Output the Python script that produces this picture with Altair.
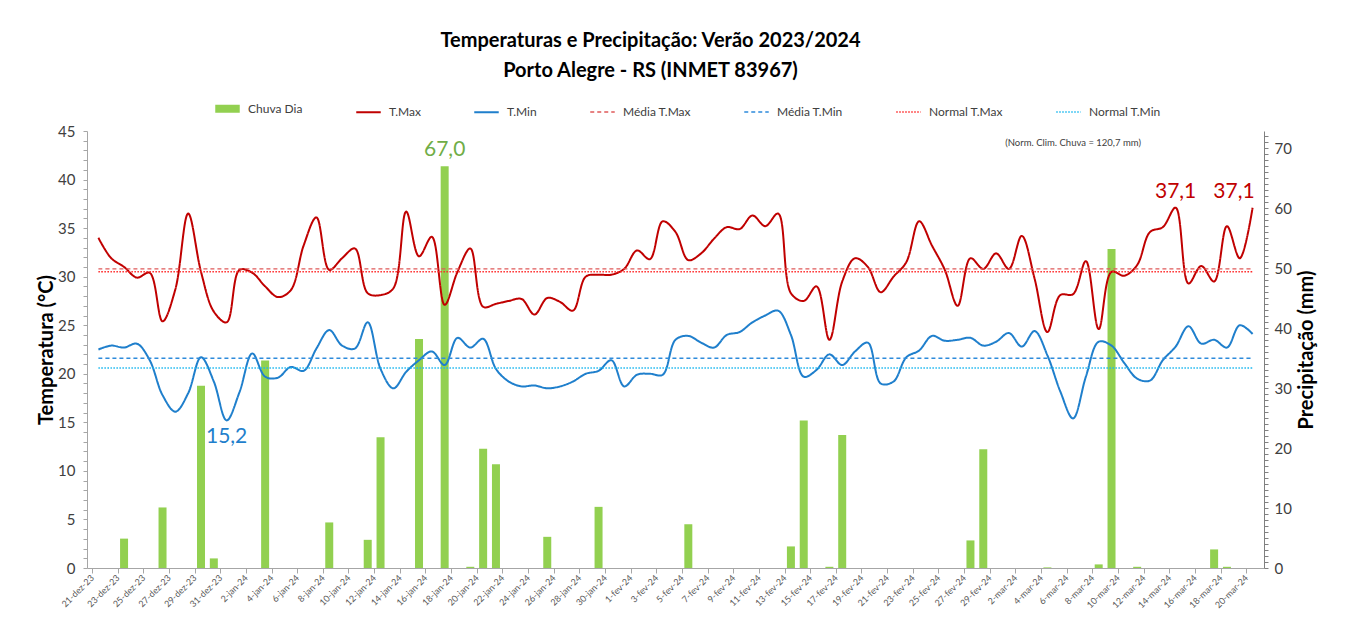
import altair as alt
import pandas as pd

# ---------------- data ----------------
tick_labels = [
    "21-dez-23", "23-dez-23", "25-dez-23", "27-dez-23", "29-dez-23", "31-dez-23",
    "2-jan-24", "4-jan-24", "6-jan-24", "8-jan-24", "10-jan-24", "12-jan-24", "14-jan-24",
    "16-jan-24", "18-jan-24", "20-jan-24", "22-jan-24", "24-jan-24", "26-jan-24", "28-jan-24",
    "30-jan-24", "1-fev-24", "3-fev-24", "5-fev-24", "7-fev-24", "9-fev-24", "11-fev-24",
    "13-fev-24", "15-fev-24", "17-fev-24", "19-fev-24", "21-fev-24", "23-fev-24", "25-fev-24",
    "27-fev-24", "29-fev-24", "2-mar-24", "4-mar-24", "6-mar-24", "8-mar-24", "10-mar-24",
    "12-mar-24", "14-mar-24", "16-mar-24", "18-mar-24", "20-mar-24",
]

t_max = [
    34.0, 31.9, 31.0, 29.9, 30.4, 25.4, 28.7, 36.5, 30.5, 26.4,
    25.3, 30.7, 30.4, 29.0, 27.9, 28.6, 33.2, 36.1, 30.7, 31.9,
    32.9, 28.3, 28.1, 28.8, 36.7, 32.1, 34.1, 27.1, 30.5, 32.9,
    26.9, 27.2, 27.5, 27.7, 26.1, 27.8, 27.4, 26.5, 30.0, 30.2,
    30.2, 30.8, 32.7, 31.8, 35.7, 34.6, 31.7, 32.4, 33.9, 35.1,
    34.9, 36.3, 35.2, 36.5, 28.3, 27.5, 29.0, 23.5, 29.5, 31.9,
    31.0, 28.4, 30.0, 31.5, 35.7, 33.2, 30.7, 27.0, 31.9, 30.8,
    32.4, 30.8, 34.2, 29.8, 24.3, 28.1, 28.2, 31.6, 24.6, 30.5,
    30.1, 31.2, 34.6, 35.1, 37.1, 29.3, 31.1, 29.5, 35.2, 31.9,
    37.1,
]

t_min = [
    22.5, 22.9, 22.7, 23.1, 21.4, 17.8, 16.1, 18.0, 21.7, 19.2,
    15.2, 18.1, 22.1, 19.7, 19.6, 20.7, 20.3, 22.6, 24.5, 22.9,
    22.6, 25.3, 20.5, 18.5, 20.2, 21.4, 22.3, 20.9, 23.7, 22.7,
    23.6, 20.5, 19.2, 18.7, 18.8, 18.5, 18.7, 19.2, 20.0, 20.3,
    21.4, 18.7, 19.9, 20.0, 19.9, 23.5, 23.9, 23.2, 22.7, 24.0,
    24.3, 25.3, 26.0, 26.5, 24.0, 19.7, 20.4, 22.0, 20.9, 22.3,
    23.2, 19.0, 19.2, 21.7, 22.4, 23.9, 23.4, 23.5, 23.7, 22.9,
    23.3, 24.2, 22.8, 24.4, 21.9, 18.2, 15.4, 19.7, 23.3, 22.9,
    21.1, 19.5, 19.3, 21.4, 22.8, 24.9, 23.1, 23.5, 22.7, 25.0,
    24.1,
]

chuva = [
    0, 0, 4.9, 0, 0, 10.1, 0, 0, 30.4, 1.6,
    0, 0, 0, 34.6, 0, 0, 0, 0, 7.6, 0,
    0, 4.7, 21.8, 0, 0, 38.2, 0, 67.0, 0, 0.2,
    19.9, 17.3, 0, 0, 0, 5.2, 0, 0, 0, 10.2,
    0, 0, 0, 0, 0, 0, 7.3, 0, 0, 0,
    0, 0, 0, 0, 3.6, 24.6, 0, 0.2, 22.2, 0,
    0, 0, 0, 0, 0, 0, 0, 0, 4.6, 19.8,
    0, 0, 0, 0, 0.1, 0, 0, 0, 0.6, 53.2,
    0, 0.2, 0, 0, 0, 0, 0, 3.1, 0.2, 0,
    0,
]

media_tmax = 30.8
media_tmin = 21.6
normal_tmax = 30.5
normal_tmin = 20.6
norm_chuva_txt = "(Norm. Clim. Chuva = 120,7 mm)"

series_names = ["Chuva Dia", "T.Max", "T.Min", "Média T.Max", "Média T.Min",
                "Normal T.Max", "Normal T.Min"]
series_colors = ["#92D050", "#C00000", "#1F7FCC", "#E05A5A", "#2E8BDB",
                 "#FF2A2A", "#1CB8F0"]
series_dash = [[1, 0], [1, 0], [1, 0], [4, 3], [4, 3], [1.5, 1.5], [1.5, 1.5]]
series_width = [8, 2, 2, 1.4, 1.4, 1.4, 1.4]

FONT = "Lato"
n = len(t_max)
idx = list(range(n))

# ---------------- frames ----------------
rain_df = pd.DataFrame({"xc": [i + 0.5 for i in idx], "chuva": chuva})
rain_df = rain_df[rain_df["chuva"] > 0]

rows = []
for i in idx:
    xc = i + 0.5
    rows += [
        {"xc": xc, "serie": "T.Max", "valor": t_max[i]},
        {"xc": xc, "serie": "T.Min", "valor": t_min[i]},
        {"xc": xc, "serie": "Média T.Max", "valor": media_tmax},
        {"xc": xc, "serie": "Média T.Min", "valor": media_tmin},
        {"xc": xc, "serie": "Normal T.Max", "valor": normal_tmax},
        {"xc": xc, "serie": "Normal T.Min", "valor": normal_tmin},
    ]
line_df = pd.DataFrame(rows)

def fmt(v):
    return f"{v:.1f}".replace(".", ",")

i_rmax = max(idx, key=lambda i: chuva[i])
i_tmin = min(idx, key=lambda i: t_min[i])
i_tmax = [i for i in idx if t_max[i] == max(t_max)]

rmax_df = pd.DataFrame({"xc": [i_rmax + 0.5], "v": [chuva[i_rmax]], "txt": [fmt(chuva[i_rmax])]})
tmin_df = pd.DataFrame({"xc": [i_tmin + 0.5], "v": [t_min[i_tmin]], "txt": [fmt(t_min[i_tmin])]})
tmax_df1 = pd.DataFrame({"xc": [i_tmax[0] + 0.5], "v": [t_max[i_tmax[0]]], "txt": [fmt(t_max[i_tmax[0]])]})
tmax_df2 = pd.DataFrame({"xc": [i_tmax[-1] + 0.5], "v": [t_max[i_tmax[-1]]], "txt": [fmt(t_max[i_tmax[-1]])]})
note_df = pd.DataFrame({"xc": [76.5], "v": [70.9], "txt": [norm_chuva_txt]})

# ---------------- scales / axes ----------------
W, H = 1177, 437
label_js = "[" + ",".join(f"'{s}'" for s in tick_labels) + "][round(datum.value/2)]"
xscale = alt.Scale(domain=[0, n], nice=False, zero=False)
xaxis = alt.Axis(
    values=list(range(0, n, 2)), labelExpr=label_js, labelAngle=315,
    labelAlign="right", labelBaseline="middle", labelFont=FONT, labelFontSize=9,
    labelColor="#595959", labelPadding=3, tickSize=5, tickColor="#A6A6A6",
    domainColor="#A6A6A6", grid=False, title=None, labelOverlap=False,
)

left_axis = alt.Axis(
    orient="left", values=list(range(0, 46)),
    labelExpr="datum.value % 5 == 0 ? datum.label : ''",
    tickSize=4, tickColor="#A6A6A6", domainColor="#A6A6A6", grid=False,
    labelFont=FONT, labelFontSize=15, labelColor="#404040", labelPadding=8,
    title="Temperatura (°C)", titleFont=FONT, titleFontSize=20, titleFontWeight="bold",
    titleColor="#000000", titleX=-41, titleY=H / 2, titleAngle=270,
    titleAlign="center", titleBaseline="middle", labelOverlap=False,
)
right_axis = alt.Axis(
    orient="right", values=list(range(0, 73)),
    labelExpr="datum.value % 10 == 0 ? datum.label : ''",
    tickSize=4, tickColor="#808080", domainColor="#808080", grid=False,
    labelFont=FONT, labelFontSize=15, labelColor="#404040", labelPadding=6,
    title="Precipitação (mm)", titleFont=FONT, titleFontSize=20, titleFontWeight="bold",
    titleColor="#000000", titleX=42, titleY=H / 2, titleAngle=270,
    titleAlign="center", titleBaseline="middle", labelOverlap=False,
)
tscale = alt.Scale(domain=[0, 45], nice=False)
pscale = alt.Scale(domain=[0, 72.9], nice=False)

def X():
    return alt.X("xc:Q", scale=xscale, axis=xaxis)

def YP(field):
    return alt.Y(field, scale=pscale, axis=right_axis)

def YT(field):
    return alt.Y(field, scale=tscale, axis=left_axis)

legend = alt.Legend(
    title=None, orient="none", legendX=124, legendY=-39, direction="horizontal",
    columns=7, symbolType="stroke", symbolSize=600, labelFont=FONT, labelFontSize=12,
    labelColor="#404040", columnPadding=49, labelOffset=4,
)

# ---------------- layers ----------------
bars = alt.Chart(rain_df).mark_bar(size=8, color="#92D050").encode(
    x=X(), y=YP("chuva:Q"),
)
rmax_txt = alt.Chart(rmax_df).mark_text(
    font=FONT, fontSize=21, color="#70AD47", baseline="alphabetic", dy=-10
).encode(x=X(), y=YP("v:Q"), text="txt:N")
note_txt = alt.Chart(note_df).mark_text(
    font=FONT, fontSize=9.5, color="#404040"
).encode(x=X(), y=YP("v:Q"), text="txt:N")
precip = alt.layer(bars, rmax_txt, note_txt)

lines = alt.Chart(line_df).mark_line(interpolate="catmull-rom").encode(
    x=X(),
    y=YT("valor:Q"),
    color=alt.Color("serie:N", scale=alt.Scale(domain=series_names, range=series_colors), legend=legend),
    strokeDash=alt.StrokeDash("serie:N", scale=alt.Scale(type="ordinal", domain=series_names, range=series_dash), legend=legend),
    strokeWidth=alt.StrokeWidth("serie:N", scale=alt.Scale(type="ordinal", domain=series_names, range=series_width), legend=legend),
)
tmin_txt = alt.Chart(tmin_df).mark_text(
    font=FONT, fontSize=21, color="#1F7FCC", baseline="top", dy=6
).encode(x=X(), y=YT("v:Q"), text="txt:N")
tmax_txt1 = alt.Chart(tmax_df1).mark_text(
    font=FONT, fontSize=21, color="#C00000", baseline="alphabetic", dy=-10
).encode(x=X(), y=YT("v:Q"), text="txt:N")
tmax_txt2 = alt.Chart(tmax_df2).mark_text(
    font=FONT, fontSize=21, color="#C00000", baseline="alphabetic", align="right", dy=-10, dx=2
).encode(x=X(), y=YT("v:Q"), text="txt:N")
temp = alt.layer(lines, tmin_txt, tmax_txt1, tmax_txt2)

chart = alt.layer(precip, temp).resolve_scale(y="independent").properties(
    width=W, height=H,
    autosize=alt.AutoSizeParams(type="none"),
    padding={"left": 79, "top": 123, "right": 70, "bottom": 45},
    title=alt.Title(
        text=["Temperaturas e Precipitação: Verão 2023/2024", "Porto Alegre - RS (INMET 83967)"],
        font=FONT, fontSize=20, fontWeight="bold", color="#000000", anchor="middle",
        dx=-25, offset=11, lineHeight=30,
    ),
).configure_view(stroke=None)

chart.save("out.html", embed_options={"renderer": "svg", "actions": False})
